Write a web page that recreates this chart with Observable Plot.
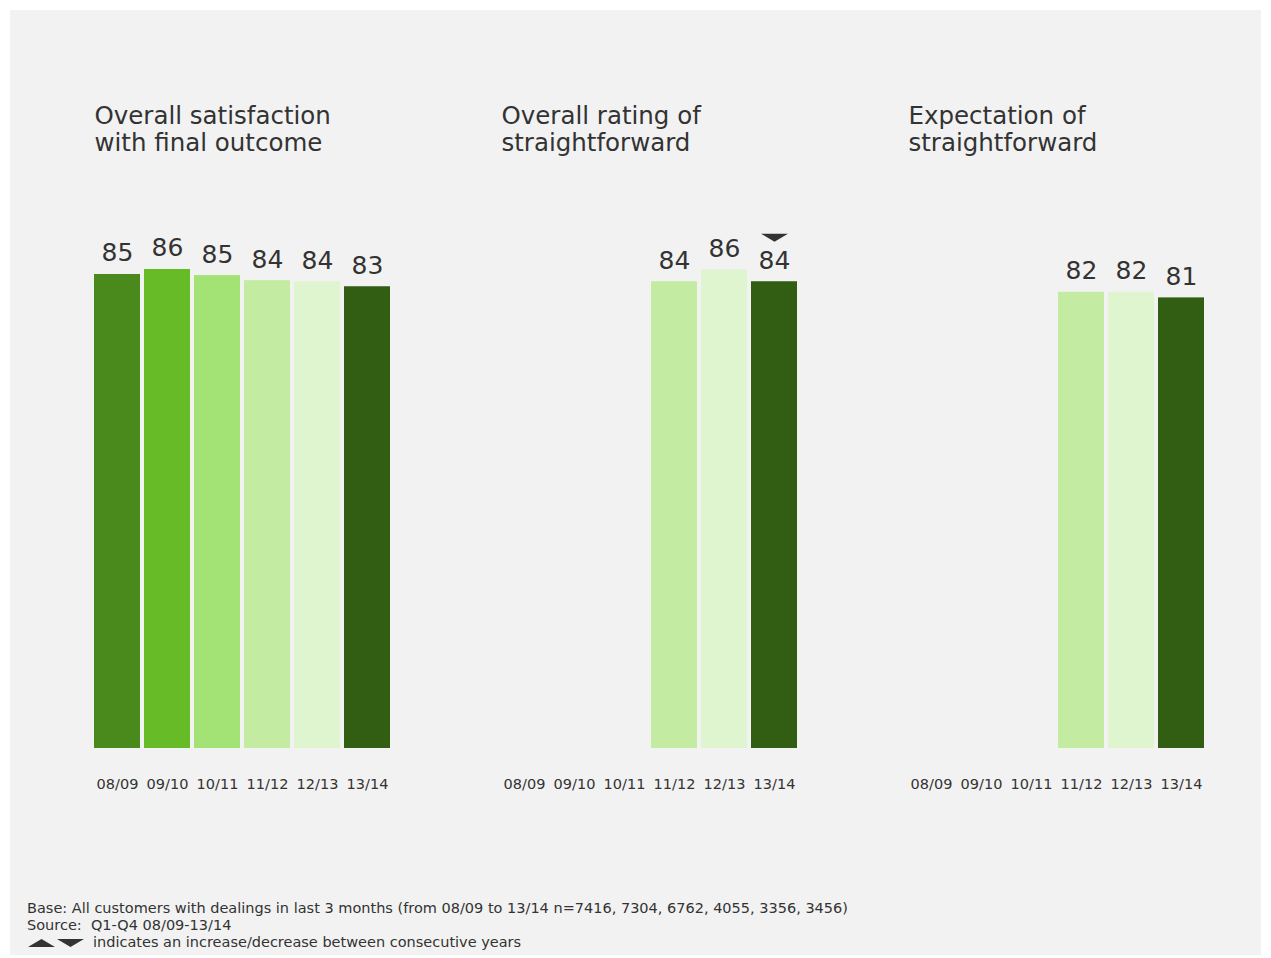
<!DOCTYPE html>
<html>
<head>
<meta charset="utf-8">
<script src="https://cdn.jsdelivr.net/npm/d3@7"></script>
<script src="https://cdn.jsdelivr.net/npm/@observablehq/plot@0.6"></script>
<style>
  html, body { margin: 0; padding: 0; background: #ffffff; }
  body { width: 1271px; height: 958px; position: relative; overflow: hidden;
         font-family: Verdana, "DejaVu Sans", sans-serif; color: #333; }
  #bg { position: absolute; left: 10px; top: 10px; width: 1251px; height: 945px; background: #f2f2f2; }
  #chart { position: absolute; left: 0; top: 0; }
  #foot { position: absolute; left: 27px; top: 900px; font-size: 14.5px; line-height: 17px; color: #333; white-space: nowrap; }
  #foot svg { vertical-align: -1px; margin-right: 8px; }
</style>
</head>
<body>
<div id="bg"></div>
<div id="chart"></div>
<div id="foot">
  <div>Base: All customers with dealings in last 3 months (from 08/09 to 13/14 n=7416, 7304, 6762, 4055, 3356, 3456)</div>
  <div>Source:&nbsp; Q1-Q4 08/09-13/14</div>
  <div><svg width="58" height="10" viewBox="0 0 58 10"><path d="M1,9 L14.5,1 L28,9 Z" fill="#333"/><path d="M30,1 L57,1 L43.5,9 Z" fill="#333"/></svg>indicates an increase/decrease between consecutive years</div>
</div>
<script>
// ---- data ----
const years = ["08/09", "09/10", "10/11", "11/12", "12/13", "13/14"];
const yearColors = ["#4a8a1c", "#66bb26", "#a3e274", "#c3eca2", "#dff5d0", "#325e14"];
const panelIds = ["satisfaction", "rating", "expectation"];
const panelTitles = ["Overall satisfaction\nwith final outcome", "Overall rating of\nstraightforward", "Expectation of\nstraightforward"];
const satisfactionValues = [85.1, 86.0, 84.9, 84.0, 83.8, 82.9];
const ratingValues = [null, null, null, 83.8, 85.9, 83.8];
const expectationValues = [null, null, null, 81.9, 81.9, 80.9];
const changeMarkers = [{panel: "rating", year: "13/14", direction: "down"}];

// ---- build table ----
const seriesByPanel = {satisfaction: satisfactionValues, rating: ratingValues, expectation: expectationValues};
const rows = [];
for (const p of panelIds) {
  seriesByPanel[p].forEach((v, i) => {
    if (v != null) rows.push({panel: p, year: years[i], value: v});
  });
}
const titles = panelIds.map((p, i) => ({panel: p, title: panelTitles[i]}));
const markers = changeMarkers.map(m => {
  const r = rows.find(d => d.panel === m.panel && d.year === m.year);
  return {...m, value: r.value};
});

const downTriangle = {draw(ctx) { ctx.moveTo(-13.5, -4); ctx.lineTo(13.5, -4); ctx.lineTo(0, 4); ctx.closePath(); }};
const upTriangle = {draw(ctx) { ctx.moveTo(-13.5, 4); ctx.lineTo(13.5, 4); ctx.lineTo(0, -4); ctx.closePath(); }};

const font = 'Verdana, "DejaVu Sans", sans-serif';

const chart = Plot.plot({
  width: 1271,
  height: 810,
  marginLeft: 94,
  marginRight: 66,
  marginTop: 191,
  marginBottom: 62,
  style: {background: "transparent", fontFamily: font, fontSize: "14.5px", color: "#333"},
  fx: {domain: panelIds, axis: null, paddingInner: 0.272, paddingOuter: 0},
  x: {domain: years, paddingInner: 0.08, paddingOuter: 0, axis: null},
  y: {domain: [0, 100], axis: null},
  color: {domain: years, range: yearColors},
  symbol: {domain: ["down", "up"], range: [downTriangle, upTriangle]},
  marks: [
    Plot.barY(rows, {fx: "panel", x: "year", y: "value", fill: "year"}),
    Plot.text(rows, {fx: "panel", x: "year", y: "value", text: d => d3.format(".0f")(d.value),
      lineAnchor: "bottom", dy: -13, fontSize: 25, fill: "#333"}),
    Plot.text(titles, {fx: "panel", text: "title", frameAnchor: "top-left", textAnchor: "start",
      lineAnchor: "top", lineHeight: 1.1, dy: -87, fontSize: 24.5, fill: "#333"}),
    Plot.dot(markers, {fx: "panel", x: "year", y: "value", dy: -44,
      symbol: d => d.direction, fill: "#333", stroke: null, r: 5}),
    Plot.axisX({tickSize: 0, tickPadding: 30, fontSize: 14.5, fill: "#333", label: null})
  ]
});
document.getElementById("chart").appendChild(chart);
</script>
</body>
</html>
